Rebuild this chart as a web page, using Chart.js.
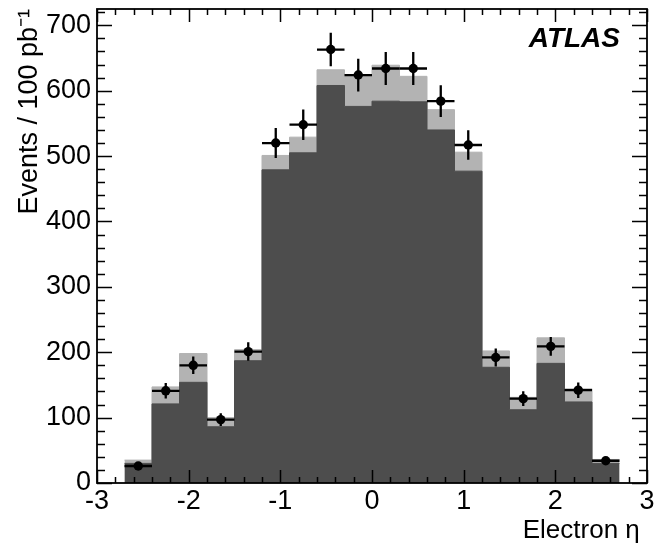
<!DOCTYPE html>
<html>
<head>
<meta charset="utf-8">
<script src="https://cdn.jsdelivr.net/npm/chart.js@4.4.1/dist/chart.umd.min.js"></script>
<style>
body { margin: 0; background: #fff; }
#wrap { width: 658px; height: 549px; }
</style>
</head>
<body>
<div id="wrap"><canvas id="etaChart" width="658" height="549"></canvas></div>
<script>
// electron eta histogram, 0.3 wide bins
var binEdges = [-2.7, -2.4, -2.1, -1.8, -1.5, -1.2, -0.9, -0.6, -0.3, 0, 0.3, 0.6, 0.9, 1.2, 1.5, 1.8, 2.1, 2.4, 2.7];
var signalMC = [30, 121, 154, 86, 187, 479, 505, 608, 576, 584, 583, 540, 477, 177, 112, 183, 124, 30];
var totalMC = [35, 147, 198, 100, 204, 501, 529, 632, 623, 639, 622, 571, 506, 202, 131, 222, 144, 36];
var dataCounts = [26, 141, 180, 97, 201, 520, 548, 663, 624, 634, 634, 584, 517, 192, 129, 209, 142, 34];
var dataErr = [5.1, 11.9, 13.4, 9.8, 14.2, 22.8, 23.4, 25.7, 25.0, 25.2, 25.2, 24.2, 22.7, 13.9, 11.4, 14.5, 11.9, 5.8];
var xTicks = [-3, -2, -1, 0, 1, 2, 3];
var yTicks = [0, 100, 200, 300, 400, 500, 600, 700];

var binCenters = [];
for (var i = 0; i < binEdges.length - 1; i++) {
    binCenters.push((binEdges[i] + binEdges[i + 1]) / 2);
}

function stepPoints(vals) {
    var pts = vals.map(function(v, i) { return {x: binEdges[i], y: v}; });
    pts.push({x: binEdges[binEdges.length - 1], y: vals[vals.length - 1]});
    return pts;
}

Chart.defaults.font.family = "'Liberation Sans', Arial, sans-serif";
Chart.defaults.color = '#000';

var errorBars = {
    id: 'errorBars',
    beforeDatasetDraw: function(chart, args) {
        if (args.index !== 0) return;
        var xs = chart.scales.x, ys = chart.scales.y, ctx = chart.ctx;
        ctx.save();
        ctx.strokeStyle = '#000';
        ctx.lineWidth = 2.3;
        dataCounts.forEach(function(v, i) {
            var cx = xs.getPixelForValue(binCenters[i]);
            var cy = ys.getPixelForValue(v);
            ctx.beginPath();
            ctx.moveTo(xs.getPixelForValue(binEdges[i]), cy);
            ctx.lineTo(xs.getPixelForValue(binEdges[i + 1]), cy);
            ctx.moveTo(cx, ys.getPixelForValue(v - dataErr[i]));
            ctx.lineTo(cx, ys.getPixelForValue(v + dataErr[i]));
            ctx.stroke();
        });
        ctx.restore();
    }
};

// ROOT style frame with ticks pointing inwards
var frame = {
    id: 'frame',
    afterDraw: function(chart) {
        var ctx = chart.ctx, a = chart.chartArea;
        var xs = chart.scales.x, ys = chart.scales.y;
        ctx.save();
        ctx.strokeStyle = '#000';
        ctx.lineWidth = 1.5;
        ctx.beginPath();
        for (var k = 0; k <= 30; k++) {
            var px = Math.round(xs.getPixelForValue(-3 + k * 0.2)) + 0.5;
            var len = (k % 5 === 0) ? 13 : 6;
            ctx.moveTo(px, a.bottom); ctx.lineTo(px, a.bottom - len);
            ctx.moveTo(px, a.top); ctx.lineTo(px, a.top + len);
        }
        for (var v = 0; v <= 720; v += 20) {
            var py = Math.round(ys.getPixelForValue(v)) + 0.5;
            var l2 = (v % 100 === 0) ? 15 : 8;
            ctx.moveTo(a.left, py); ctx.lineTo(a.left + l2, py);
            ctx.moveTo(a.right, py); ctx.lineTo(a.right - l2, py);
        }
        ctx.stroke();
        ctx.lineWidth = 1.8;
        ctx.strokeRect(a.left, a.top, a.right - a.left, a.bottom - a.top);

        ctx.font = "italic bold 28px 'Liberation Sans', Arial, sans-serif";
        ctx.fillStyle = '#000';
        ctx.textAlign = 'right';
        ctx.textBaseline = 'alphabetic';
        ctx.fillText('ATLAS', a.right - 27, a.top + 38);
        ctx.restore();
    }
};

var config = {
    type: 'line',
    data: {
        datasets: [{
            label: 'Data',
            data: binCenters.map(function(x, i) { return {x: x, y: dataCounts[i]}; }),
            showLine: false,
            pointRadius: 4.7,
            pointBackgroundColor: '#000',
            pointBorderWidth: 0
        }, {
            label: 'Signal MC',
            data: stepPoints(signalMC),
            stepped: 'before',
            fill: 'origin',
            backgroundColor: '#4d4d4d',
            borderColor: '#4d4d4d',
            borderWidth: 1,
            pointRadius: 0
        }, {
            label: 'Total MC',
            data: stepPoints(totalMC),
            stepped: 'before',
            fill: 'origin',
            backgroundColor: '#b3b3b3',
            borderColor: '#b3b3b3',
            borderWidth: 1,
            pointRadius: 0
        }]
    },
    options: {
        responsive: false,
        animation: false,
        layout: { padding: { top: 9, right: 11, left: 0, bottom: 0 } },
        plugins: {
            legend: { display: false },
            tooltip: { enabled: false }
        },
        scales: {
            x: {
                type: 'linear',
                min: -3,
                max: 3,
                grid: { display: false, drawTicks: false },
                border: { display: false },
                afterBuildTicks: function(scale) {
                    scale.ticks = xTicks.map(function(v) { return {value: v}; });
                },
                ticks: { font: { size: 27 }, padding: 2, maxRotation: 0 },
                title: {
                    display: true,
                    text: 'Electron η ',
                    align: 'end',
                    font: { size: 26 },
                    padding: { top: 0, bottom: 3 }
                },
                afterFit: function(scale) {
                    scale.height = 66;
                    scale.paddingLeft = 0;
                    scale.paddingRight = 0;
                }
            },
            y: {
                min: 0,
                max: 725,
                grid: { display: false, drawTicks: false },
                border: { display: false },
                afterBuildTicks: function(scale) {
                    scale.ticks = yTicks.map(function(v) { return {value: v}; });
                },
                ticks: { font: { size: 27 }, padding: 6 },
                title: {
                    display: true,
                    text: 'Events / 100 pb⁻¹',
                    align: 'end',
                    font: { size: 27 },
                    padding: { top: 13, bottom: 0 }
                },
                afterFit: function(scale) {
                    scale.width = 97;
                    scale.paddingTop = 0;
                    scale.paddingBottom = 0;
                }
            }
        }
    },
    plugins: [errorBars, frame]
};

var ctx = document.getElementById('etaChart').getContext('2d');
var etaChart = new Chart(ctx, config);
</script>
</body>
</html>
